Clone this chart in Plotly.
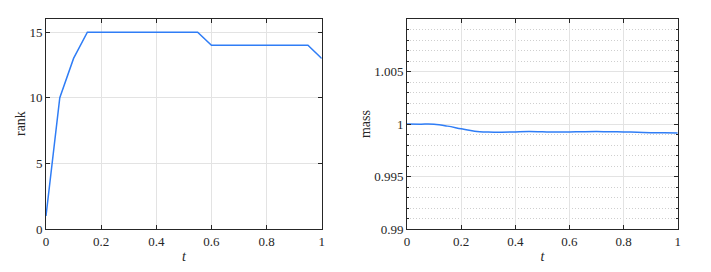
import plotly.graph_objects as go
from plotly.subplots import make_subplots

t_rank = [0, 0.05, 0.1, 0.15, 0.2, 0.25, 0.3, 0.35, 0.4, 0.45, 0.5, 0.55, 0.6, 0.65, 0.7, 0.75, 0.8, 0.85, 0.9, 0.95, 1.0]
rank = [1, 10, 13, 15, 15, 15, 15, 15, 15, 15, 15, 15, 14, 14, 14, 14, 14, 14, 14, 14, 13]

t_mass = [0, 0.05, 0.1, 0.15, 0.2, 0.25, 0.3, 0.35, 0.4, 0.45, 0.5, 0.55, 0.6, 0.65, 0.7, 0.75, 0.8, 0.85, 0.9, 0.95, 1.0]
mass = [1.0, 0.99999, 0.99998, 0.99980, 0.99955, 0.99932, 0.99924, 0.99922, 0.99925, 0.99928, 0.99926, 0.99924, 0.99925, 0.99927, 0.99928, 0.99927, 0.99925, 0.99922, 0.99918, 0.99916, 0.99914]

x_ticks = [0, 0.2, 0.4, 0.6, 0.8, 1]
x_ticklabels = ["0", "0.2", "0.4", "0.6", "0.8", "1"]
rank_ticks = [0, 5, 10, 15]
mass_ticks = [0.99, 0.995, 1.0, 1.005]
mass_ticklabels = ["0.99", "0.995", "1", "1.005"]

line_color = "#2f7df6"
axis_color = "#262626"
grid_color = "#e3e3e3"
font_family = "Liberation Serif"

fig = make_subplots(rows=1, cols=2)
fig.add_trace(go.Scatter(x=t_rank, y=rank, mode="lines",
                         line=dict(color=line_color, width=1.5), showlegend=False), row=1, col=1)
fig.add_trace(go.Scatter(x=t_mass, y=mass, mode="lines", line_shape="spline",
                         line=dict(color=line_color, width=1.5), showlegend=False), row=1, col=2)

common_axis = dict(showline=True, linecolor=axis_color, linewidth=1, mirror="ticks",
                   ticks="inside", ticklen=4, tickcolor=axis_color, automargin=False,
                   showgrid=True, gridcolor=grid_color, gridwidth=1, zeroline=False,
                   tickfont=dict(family=font_family, size=13, color=axis_color))

fig.update_xaxes(**common_axis)
fig.update_yaxes(**common_axis)

title_font = dict(family=font_family, size=14, color=axis_color)

fig.update_xaxes(domain=[0.0647, 0.4525], range=[0, 1], tickvals=x_ticks, ticktext=x_ticklabels,
                 title=dict(text="<i>t</i>", standoff=3, font=title_font),
                 row=1, col=1)
fig.update_xaxes(domain=[0.5724, 0.9532], range=[0, 1], tickvals=x_ticks, ticktext=x_ticklabels,
                 title=dict(text="<i>t</i>", standoff=3, font=title_font),
                 row=1, col=2)
fig.update_yaxes(domain=[0.158, 0.930], range=[0, 16], tickvals=rank_ticks,
                 row=1, col=1)
fig.update_yaxes(domain=[0.158, 0.930], range=[0.99, 1.01], tickvals=mass_ticks, ticktext=mass_ticklabels,
                 minor=dict(dtick=0.001, tick0=0.99, showgrid=True, gridcolor="#cfcfcf", griddash="1px,2px",
                            ticks="inside", ticklen=2, tickcolor=axis_color),
                 row=1, col=2)

fig.add_annotation(text="rank", xref="paper", yref="paper", x=20 / 711, y=0.544,
                   xanchor="center", yanchor="middle",
                   textangle=-90, showarrow=False, font=title_font)
fig.add_annotation(text="mass", xref="paper", yref="paper", x=365 / 711, y=0.544,
                   xanchor="center", yanchor="middle",
                   textangle=-90, showarrow=False, font=title_font)

fig.update_layout(width=711, height=272, margin=dict(l=0, r=0, t=0, b=0),
                  paper_bgcolor="white", plot_bgcolor="white",
                  font=dict(family=font_family, color=axis_color))

fig.write_html("out.html", config={"displayModeBar": False},
               post_script="document.body.style.margin='0';")
